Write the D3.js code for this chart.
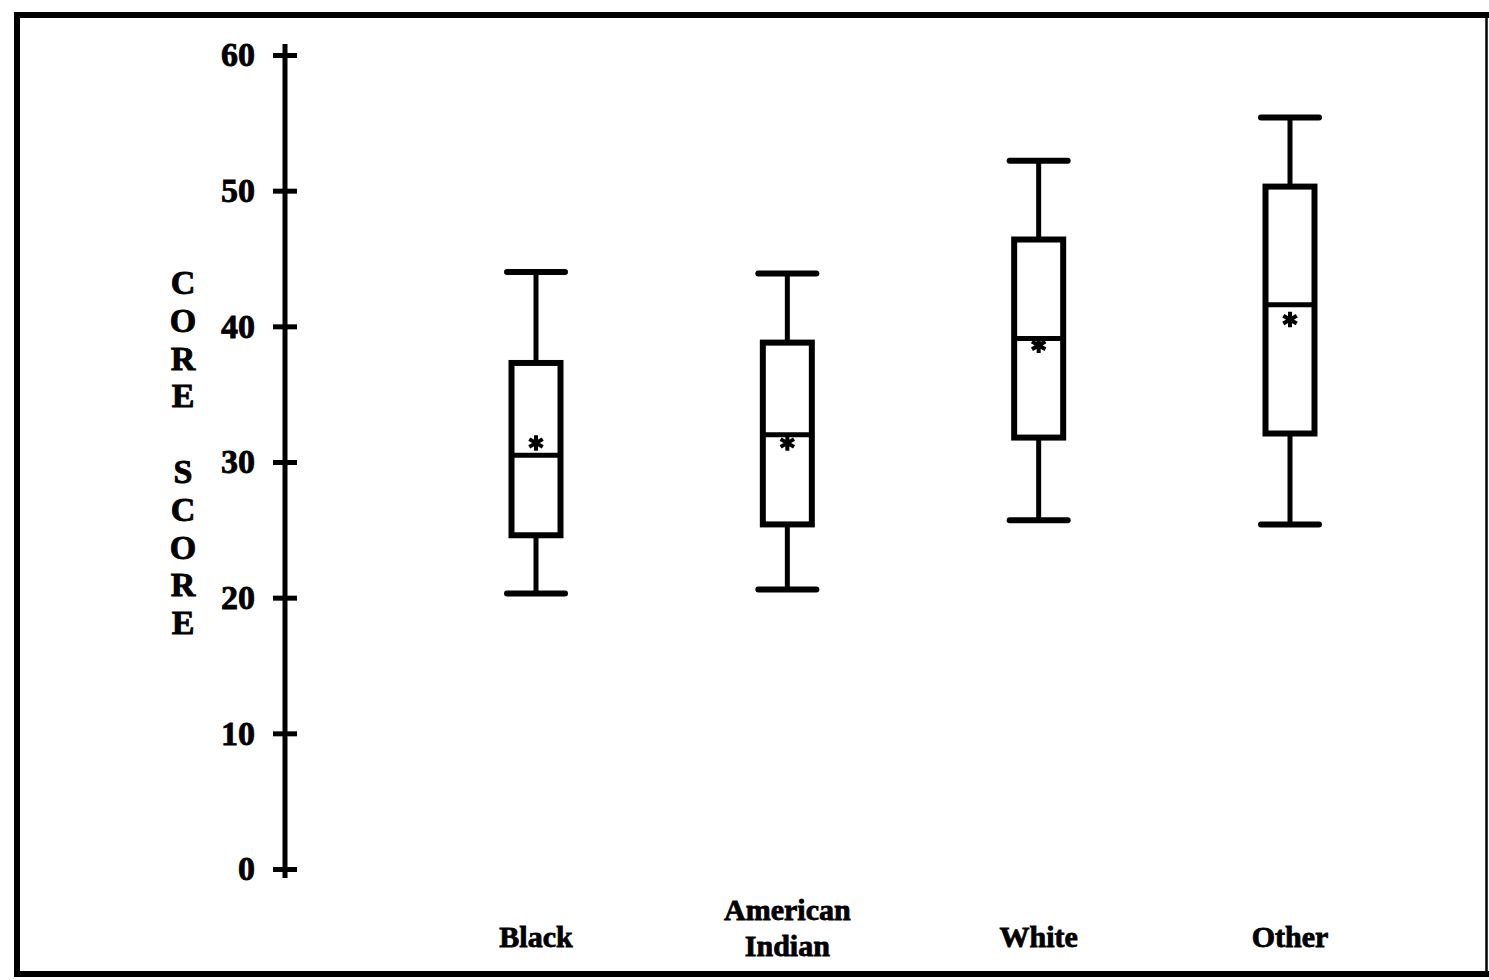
<!DOCTYPE html>
<html>
<head>
<meta charset="utf-8">
<script src="https://cdn.jsdelivr.net/npm/d3@7"></script>
<style>
    body { margin: 0; background: #fff; }
    text { font-family: "Liberation Serif", "DejaVu Serif", serif; font-weight: bold; fill: #000; }
</style>
</head>
<body>
<div id="chart"></div>
<script>
// values
var groups = ["Black", "American Indian", "White", "Other"];
var labelLines = [["Black"], ["American", "Indian"], ["White"], ["Other"]];
var whiskerLow = [20.3, 20.6, 25.7, 25.4];
var q1 = [24.6, 25.4, 31.8, 32.1];
var median = [30.5, 32.0, 39.1, 41.6];
var q3 = [37.3, 38.8, 46.4, 50.3];
var whiskerHigh = [44.0, 43.9, 52.2, 55.4];
var means = [31.4, 31.4, 38.6, 40.5];
var yTicks = [0, 10, 20, 30, 40, 50, 60];
var yTitle = ["C", "O", "R", "E", "", "S", "C", "O", "R", "E"];

var W = 1489, H = 980;

var svg = d3.select("#chart").append("svg")
    .attr("width", W)
    .attr("height", H);

var rows = groups.map(function (g, i) {
    return {
        name: g, lines: labelLines[i],
        lo: whiskerLow[i], q1: q1[i], med: median[i],
        q3: q3[i], hi: whiskerHigh[i], mean: means[i]
    };
});

var y = d3.scaleLinear().domain([0, 60]).range([869, 55]);
var x = d3.scalePoint().domain(groups).range([536, 1290]);

// frame around the figure
svg.append("line").attr("x1", 14).attr("x2", W).attr("y1", 15).attr("y2", 15)
    .attr("stroke", "#000").attr("stroke-width", 6);
svg.append("line").attr("x1", 17).attr("x2", 17).attr("y1", 12).attr("y2", 977)
    .attr("stroke", "#000").attr("stroke-width", 6);
svg.append("line").attr("x1", 14).attr("x2", W).attr("y1", 974).attr("y2", 974)
    .attr("stroke", "#000").attr("stroke-width", 6);
svg.append("line").attr("x1", 1486.5).attr("x2", 1486.5).attr("y1", 12).attr("y2", 977)
    .attr("stroke", "#000").attr("stroke-width", 2.5);

// y axis
var axisX = 285;
var yAxis = svg.append("g")
    .attr("transform", "translate(" + axisX + ",0)")
    .call(d3.axisLeft(y).tickValues(yTicks).tickSize(12).tickPadding(18));
yAxis.select(".domain").remove();
yAxis.selectAll(".tick line")
    .attr("x1", -12).attr("x2", 12)
    .attr("stroke", "#000").attr("stroke-width", 5);
yAxis.selectAll(".tick text")
    .attr("font-size", 34)
    .attr("font-family", "Liberation Serif, serif")
    .attr("font-weight", "bold")
    .attr("stroke", "#000").attr("stroke-width", 0.8);
yAxis.append("line")
    .attr("x1", 0).attr("x2", 0)
    .attr("y1", y(60) - 11).attr("y2", y(0) + 9)
    .attr("stroke", "#000").attr("stroke-width", 5);

// stacked letter title
svg.append("g").selectAll("text")
    .data(yTitle)
    .enter().append("text")
    .attr("x", 183)
    .attr("y", function (d, i) { return 294 + i * 37.8; })
    .attr("text-anchor", "middle")
    .attr("font-size", 34)
    .attr("stroke", "#000").attr("stroke-width", 0.9)
    .text(function (d) { return d; });

// boxes
var box = svg.append("g").selectAll("g")
    .data(rows)
    .enter().append("g")
    .attr("transform", function (d) { return "translate(" + x(d.name) + ",0)"; });

var boxW = 55, capW = 58;

box.append("line")
    .attr("x1", 0).attr("x2", 0)
    .attr("y1", function (d) { return y(d.hi); })
    .attr("y2", function (d) { return y(d.q3); })
    .attr("stroke", "#000").attr("stroke-width", 5);
box.append("line")
    .attr("x1", 0).attr("x2", 0)
    .attr("y1", function (d) { return y(d.q1); })
    .attr("y2", function (d) { return y(d.lo); })
    .attr("stroke", "#000").attr("stroke-width", 5);
box.selectAll(".cap")
    .data(function (d) { return [d.hi, d.lo]; })
    .enter().append("line")
    .attr("class", "cap")
    .attr("x1", -capW / 2).attr("x2", capW / 2)
    .attr("y1", function (v) { return y(v); })
    .attr("y2", function (v) { return y(v); })
    .attr("stroke", "#000").attr("stroke-width", 6)
    .attr("stroke-linecap", "round");
box.append("rect")
    .attr("x", -boxW / 2 + 3)
    .attr("width", boxW - 6)
    .attr("y", function (d) { return y(d.q3); })
    .attr("height", function (d) { return y(d.q1) - y(d.q3); })
    .attr("fill", "#fff")
    .attr("stroke", "#000").attr("stroke-width", 6);
box.append("line")
    .attr("x1", -boxW / 2 + 3).attr("x2", boxW / 2 - 3)
    .attr("y1", function (d) { return y(d.med); })
    .attr("y2", function (d) { return y(d.med); })
    .attr("stroke", "#000").attr("stroke-width", 5);
box.append("path")
    .attr("d", d3.symbol(d3.symbolAsterisk, 170))
    .attr("transform", function (d) { return "translate(0," + y(d.mean) + ")"; })
    .attr("fill", "none")
    .attr("stroke", "#000").attr("stroke-width", 4);

// category labels
var lab = svg.append("g").selectAll("text")
    .data(rows)
    .enter().append("text")
    .attr("text-anchor", "middle")
    .attr("font-size", 30)
    .attr("stroke", "#000").attr("stroke-width", 0.8)
    .attr("x", function (d) { return x(d.name); })
    .attr("y", function (d) { return d.lines.length > 1 ? 920 : 947; });
lab.selectAll("tspan")
    .data(function (d) { return d.lines.map(function (t) { return {t: t, x: x(d.name)}; }); })
    .enter().append("tspan")
    .attr("x", function (d) { return d.x; })
    .attr("dy", function (d, i) { return i === 0 ? 0 : 36; })
    .text(function (d) { return d.t; });
</script>
</body>
</html>
